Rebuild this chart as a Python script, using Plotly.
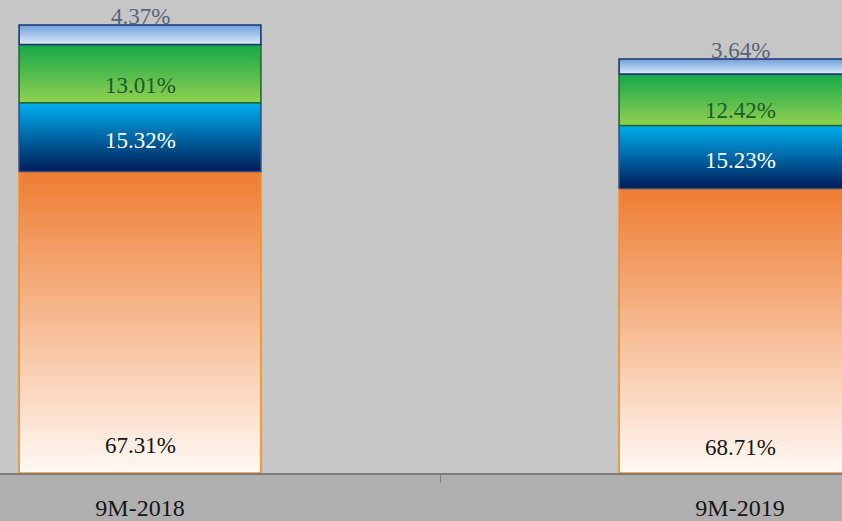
import plotly.graph_objects as go

# Periods and the share of each component within the period (percent)
periods = ["9M-2018", "9M-2019"]
share_base = [67.31, 68.71]     # orange, bottom segment
share_second = [15.32, 15.23]   # blue
share_third = [13.01, 12.42]    # green
share_top = [4.37, 3.64]        # light blue, top segment
# Overall size of each period, indexed to 9M-2018 = 100
period_total = [100.0, 92.4]

series = [
    dict(values=share_base, bottom="#fff9f5", top="#ee7d32", line="#f7901e",
         text="#151515", frac=0.09),
    dict(values=share_second, bottom="#001c58", top="#00b0f0", line="#2c4f80",
         text="#ffffff", frac=0.45),
    dict(values=share_third, bottom="#92d050", top="#14a84a", line="#1f6b2e",
         text="#1a5c2c", frac=0.30),
    dict(values=share_top, bottom="#dfeaf7", top="#6f9fdc", line="#1c3575",
         text="#5a6478", frac=None),
]

half_width = 0.2015
font_family = "Liberation Serif, Times New Roman, serif"

fig = go.Figure()
annotations = []

for i, period in enumerate(periods):
    base = 0.0
    scale = period_total[i] / 100.0
    for s in series:
        h = s["values"][i] * scale
        x0, x1 = i - half_width, i + half_width
        fig.add_trace(go.Scatter(
            x=[x0, x1, x1, x0, x0],
            y=[base, base, base + h, base + h, base],
            mode="lines",
            fill="toself",
            fillgradient=dict(type="vertical",
                              colorscale=[[0, s["bottom"]], [1, s["top"]]]),
            line=dict(color=s["line"], width=1.6),
            hoverinfo="skip",
            showlegend=False,
        ))
        if s["frac"] is None:
            label_y = base + h + 2.0
        else:
            label_y = base + h * s["frac"]
        annotations.append(dict(
            x=i, y=label_y, xref="x", yref="y",
            text=f"{s['values'][i]:.2f}%",
            showarrow=False,
            font=dict(family=font_family, size=23, color=s["text"]),
        ))
        base += h

fig.update_layout(
    width=842, height=521,
    margin=dict(l=0, r=0, t=0, b=48, autoexpand=False),
    paper_bgcolor="#b0b0b0",
    plot_bgcolor="#c6c6c6",
    annotations=annotations,
    showlegend=False,
    xaxis=dict(
        range=[-140 / 600, 702 / 600],
        tickvals=[0, 1],
        ticktext=periods,
        ticks="",
        showgrid=False,
        zeroline=False,
        showline=True,
        linecolor="#7d7d7d",
        linewidth=1.5,
        automargin=False,
        ticklabelstandoff=12,
        tickfont=dict(family=font_family, size=24, color="#151515"),
        minor=dict(tickvals=[0.5], ticks="outside", ticklen=8,
                   tickcolor="#7d7d7d", tickwidth=1.2),
        fixedrange=True,
    ),
    yaxis=dict(
        range=[0, 473 / 4.48],
        visible=False,
        showgrid=False,
        zeroline=False,
        automargin=False,
        fixedrange=True,
    ),
)

fig.write_html("out.html")
